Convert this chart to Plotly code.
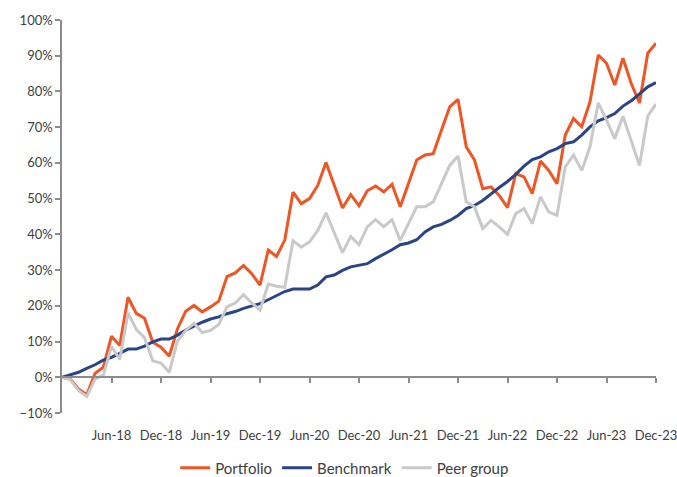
import pandas as pd
import plotly.graph_objects as go

# monthly cumulative returns, Dec-17 .. Dec-23 (in %)
months = pd.date_range("2017-12-01", "2023-12-01", freq="MS").strftime("%b-%y").tolist()

portfolio = [0, -0.5, -3.3, -4.9, 1.1, 2.8, 11.5, 8.9, 22.4, 17.9, 16.5, 9.8, 8.4,
             5.9, 13.6, 18.5, 20.1, 18.3, 19.7, 21.3, 28.2, 29.2, 31.3, 29.0, 25.8,
             35.6, 33.8, 38.4, 51.8, 48.6, 50.0, 53.7, 60.1, 53.7, 47.4, 51.1, 48.0,
             52.2, 53.5, 51.9, 54.0, 47.7, 54.2, 60.8, 62.2, 62.6, 69.2, 75.7, 77.8,
             64.5, 60.8, 52.8, 53.3, 50.9, 47.5, 57.0, 56.1, 51.4, 60.5, 57.9, 54.2,
             67.8, 72.4, 70.1, 77.1, 90.2, 87.9, 81.8, 89.3, 82.2, 76.8, 90.7, 93.5]

benchmark = [0, 0.7, 1.4, 2.5, 3.5, 4.8, 5.6, 6.7, 7.9, 7.9, 8.7, 9.9, 10.7,
             10.7, 11.8, 13.2, 14.4, 15.4, 16.3, 16.9, 17.8, 18.4, 19.3, 19.9, 20.6,
             21.7, 22.8, 24.0, 24.7, 24.7, 24.7, 25.8, 28.1, 28.6, 29.9, 30.9, 31.4,
             31.8, 33.2, 34.4, 35.7, 37.1, 37.6, 38.5, 40.7, 42.1, 42.8, 43.9, 45.3,
             47.2, 48.1, 49.5, 51.4, 53.1, 54.8, 56.8, 59.1, 60.9, 61.7, 63.1, 64.0,
             65.4, 65.9, 67.8, 70.1, 71.8, 72.7, 73.8, 75.9, 77.4, 79.3, 81.3, 82.5]

peer_group = [0, -0.7, -3.7, -5.4, -0.5, 0.6, 8.6, 5.0, 18.0, 13.4, 11.1, 4.6, 4.0,
              1.4, 10.2, 13.1, 15.1, 12.5, 13.1, 14.8, 19.7, 20.8, 23.1, 20.8, 18.8,
              26.1, 25.5, 25.2, 38.2, 36.4, 37.9, 41.1, 46.0, 40.7, 34.9, 39.4, 37.1,
              42.1, 44.1, 42.1, 44.1, 38.3, 43.0, 47.7, 47.7, 49.1, 54.2, 59.3, 61.9,
              49.1, 47.7, 41.6, 43.9, 42.1, 40.0, 45.8, 47.2, 43.0, 50.5, 46.3, 45.3,
              58.9, 62.2, 57.9, 64.5, 76.8, 72.0, 66.8, 73.1, 66.4, 59.3, 73.1, 76.5]

tick_labels = ["Jun-18", "Dec-18", "Jun-19", "Dec-19", "Jun-20", "Dec-20",
               "Jun-21", "Dec-21", "Jun-22", "Dec-22", "Jun-23", "Dec-23"]

axis_grey = "#8c8c8c"
text_col = "#404040"

fig = go.Figure()
fig.add_trace(go.Scatter(x=months, y=portfolio, name="Portfolio", mode="lines",
                         line=dict(color="#f05523", width=3)))
fig.add_trace(go.Scatter(x=months, y=benchmark, name="Benchmark", mode="lines",
                         line=dict(color="#2a4488", width=3)))
fig.add_trace(go.Scatter(x=months, y=peer_group, name="Peer group", mode="lines",
                         line=dict(color="#c9c9c9", width=3)))
# helper trace so the zero-line axis (x2) gets drawn
fig.add_trace(go.Scatter(x=months[:1], y=[0], xaxis="x2", mode="lines", opacity=0,
                         showlegend=False, hoverinfo="skip"))

fig.update_layout(
    width=677, height=477,
    margin=dict(l=62, r=21, t=20, b=64, autoexpand=False),
    plot_bgcolor="white", paper_bgcolor="white",
    font=dict(family="Lato", size=13, color=text_col),
    xaxis=dict(type="category", categoryorder="array", categoryarray=months,
               range=[0, len(months) - 1], tickmode="array", tickvals=tick_labels,
               showline=False, showgrid=False, zeroline=False, automargin=False,
               ticks="outside", ticklen=0, ticklabelstandoff=10,
               tickfont=dict(size=13, color=text_col)),
    xaxis2=dict(type="category", categoryorder="array", categoryarray=months,
                matches="x", overlaying="x", anchor="free", position=10 / 110,
                tickmode="array", tickvals=tick_labels, showticklabels=False,
                showline=True, linecolor=axis_grey, linewidth=1.5,
                ticks="outside", ticklen=5, tickcolor=axis_grey, tickwidth=1.5,
                showgrid=False, zeroline=False),
    yaxis=dict(range=[-10, 100], dtick=10, ticksuffix="%", automargin=False,
               showline=True, linecolor=axis_grey, linewidth=1.5,
               ticks="outside", ticklen=5, tickcolor=axis_grey, tickwidth=1.5,
               showgrid=False, zeroline=False,
               tickfont=dict(size=13, color=text_col)),
    legend=dict(orientation="h", x=0.476, xanchor="center", y=-0.14, yanchor="middle",
                font=dict(size=15, color=text_col), itemwidth=30, tracegroupgap=0),
    showlegend=True,
)

# drop the default page margin so the figure sits at the window's corner
fig.write_html("out.html", config={"displayModeBar": False},
               post_script="document.body.style.margin='0';")
